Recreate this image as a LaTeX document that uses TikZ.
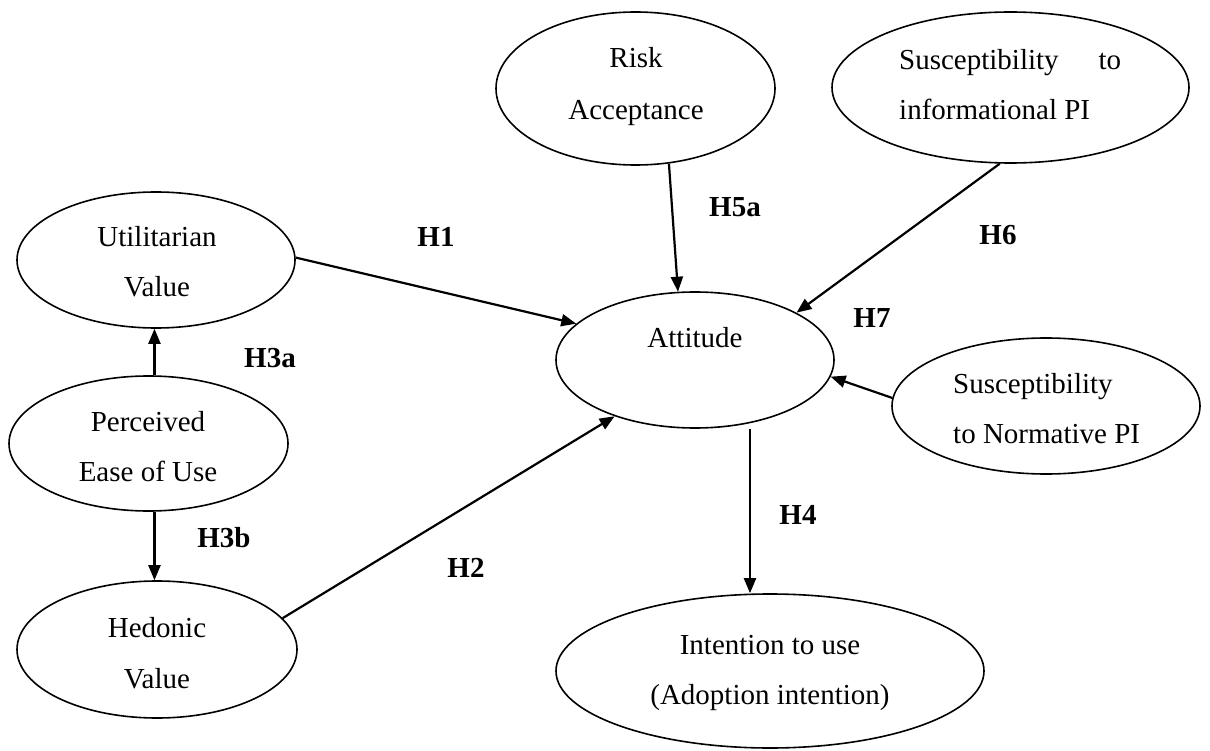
\documentclass[tikz,border=0pt]{standalone}
\usepackage{fontspec}
\setmainfont{Liberation Serif}
\usetikzlibrary{arrows.meta,calc,shapes.geometric}
\begin{document}
\begin{tikzpicture}[x=1pt,y=-1pt,
  construct/.style={draw,ellipse,line width=1.6pt,inner sep=0pt},
  line/.style={font=\fontsize{29}{50}\selectfont,inner sep=0pt,anchor=base},
  hyp/.style={font=\fontsize{29}{35}\selectfont\bfseries,inner sep=0pt},
  path/.style={line width=2.2pt,-{Triangle[length=15pt,width=12pt]}}]
\useasboundingbox (0,0) rectangle (1210,751);

% constructs
\node[construct,minimum width=279pt,minimum height=153pt] (risk) at (635.5,88.5) {};
\node[line] (riskA) at (636,68) {Risk};
\node[line] (riskB) at (636,120) {Acceptance};

\node[construct,minimum width=357pt,minimum height=151pt] (info) at (1010.5,87.5) {};
\node[line,anchor=base west] (infoA) at (899,70) {\hbox to 222pt{Susceptibility\hfill to}};
\node[line,anchor=base west] (infoB) at (899,120) {informational PI};

\node[construct,minimum width=278pt,minimum height=136pt] (util) at (156,260) {};
\node[line] (utilA) at (157,247) {Utilitarian};
\node[line] (utilB) at (157,297) {Value};

\node[construct,minimum width=278pt,minimum height=136pt] (att) at (695,360) {};
\node[line] (attA) at (695,348) {Attitude};

\node[construct,minimum width=279pt,minimum height=135pt] (peou) at (148.5,443.5) {};
\node[line] (peouA) at (148,431) {Perceived};
\node[line] (peouB) at (148,481) {Ease of Use};

\node[construct,minimum width=308pt,minimum height=136pt] (norm) at (1046,406) {};
\node[line,anchor=base west] (normA) at (953,393) {Susceptibility};
\node[line,anchor=base west] (normB) at (953,443) {to Normative PI};

\node[construct,minimum width=280pt,minimum height=137pt] (hed) at (157,649.5) {};
\node[line] (hedA) at (157,637) {Hedonic};
\node[line] (hedB) at (157,688) {Value};

\node[construct,minimum width=428pt,minimum height=154pt] (intent) at (770,671) {};
\node[line] (intentA) at (770,654) {Intention to use};
\node[line] (intentB) at (770,704) {(Adoption intention)};

% hypothesis labels
\node[hyp] (h1) at (436,237) {H1};
\node[hyp] (h5a) at (735,207) {H5a};
\node[hyp] (h6) at (998,235) {H6};
\node[hyp] (h7) at (872,318) {H7};
\node[hyp] (h3a) at (270,358) {H3a};
\node[hyp] (h3b) at (224,538) {H3b};
\node[hyp] (h2) at (466,568) {H2};
\node[hyp] (h4) at (798,515) {H4};

% paths
\draw[path] (risk.294) -- (att.104);
\draw[path] (util.1) -- (att.163);
\draw[path] (info.262) -- (att.25);
\draw[path] (norm.177) -- (att.353);
\draw[path] (peou.85) -- (peou.85 |- util.south);
\draw[path] (peou.275) -- (peou.275 |- hed.north);
\draw[path] (hed.14) -- (att.215);
\draw[path] ($(att.south)+(55,0)$) -- ($(intent.north)+(-20,0)$);
\end{tikzpicture}
\end{document}
